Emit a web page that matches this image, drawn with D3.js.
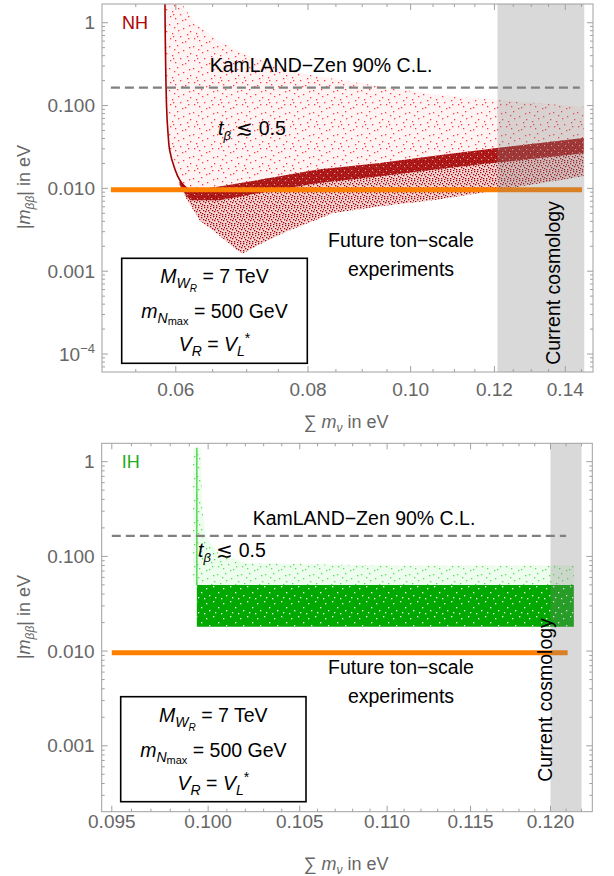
<!DOCTYPE html>
<html><head><meta charset="utf-8">
<script src="https://cdn.jsdelivr.net/npm/d3@7"></script>
<style>body{margin:0;background:#fff} svg text{font-family:"Liberation Sans",Arial,sans-serif}</style>
</head><body><svg id="c" width="614" height="876"></svg>
<script>
// ---------- data ----------
// NH panel
const nhXTicks = [0.06, 0.08, 0.10, 0.12, 0.14];
const nhXTickLabels = ["0.06", "0.08", "0.10", "0.12", "0.14"];
const nhXMinor = [0.055,0.065,0.07,0.075,0.085,0.09,0.095,0.105,0.11,0.115,0.125,0.13,0.135,0.145];
const nhYTicks = [1, 0.1, 0.01, 0.001, 0.0001];
const nhYTickLabels = ["1", "0.100", "0.010", "0.001", "10^-4"];
// sparse light-red cloud: upper envelope (left→right)
const nhLightUpper = [[0.0586,1.8],[0.0606,1.8],[0.0625,1.0],[0.0656,0.62],[0.0705,0.39],[0.0786,0.246],[0.0936,0.17],[0.1059,0.135],[0.1207,0.117],[0.1457,0.097]];
// dense dark-red band: upper envelope (left→right)
const nhBandUpper = [[0.0586,1.8],[0.0588,0.1],[0.0590,0.045],[0.0592,0.029],[0.0598,0.018],[0.0605,0.0127],[0.0612,0.0105],[0.0619,0.0095],[0.0660,0.0105],[0.0705,0.0121],[0.0815,0.0168],[0.0936,0.0203],[0.1059,0.025],[0.1207,0.0307],[0.1457,0.0405]];
// dense core just below the upper edge
const nhCoreLower = [[0.0605,0.0110],[0.0612,0.0086],[0.0619,0.0072],[0.0660,0.0072],[0.0705,0.0084],[0.0815,0.0115],[0.0936,0.0140],[0.1059,0.0170],[0.1207,0.0205],[0.1457,0.0265]];
// lower envelope of the dark band (left→right)
const nhBandLower = [[0.0605,0.0110],[0.0614,0.0075],[0.0632,0.0041],[0.0656,0.00286],[0.0685,0.0018],[0.0694,0.00164],[0.0720,0.0021],[0.0758,0.0029],[0.0844,0.0050],[0.0936,0.0061],[0.1059,0.0073],[0.1207,0.0095],[0.1457,0.0140]];
// IH panel
const ihXTicks = [0.095, 0.100, 0.105, 0.110, 0.115, 0.120];
const ihXTickLabels = ["0.095", "0.100", "0.105", "0.110", "0.115", "0.120"];
const ihXMinor = [0.096,0.097,0.098,0.099,0.101,0.102,0.103,0.104,0.106,0.107,0.108,0.109,0.111,0.112,0.113,0.114,0.116,0.117,0.118,0.119,0.121,0.122];
const ihYTicks = [1, 0.1, 0.01, 0.001];
const ihYTickLabels = ["1", "0.100", "0.010", "0.001"];
const ihLightUpper = [[0.0992,1.4],[0.0996,1.4],[0.0997,0.3],[0.0999,0.16],[0.1005,0.11],[0.102,0.085],[0.11,0.08],[0.1215,0.08]];
const ihBandUpper = [[0.0994,0.0499],[0.1215,0.0499]];
const ihBandLower = [[0.0994,0.0181],[0.1215,0.0181]];
// reference lines / regions
const kamland = 0.165;
const tonScale = 0.0096;
const nhLineRange = [0.0521, 0.1445];
const nhOrangeRange = [0.0521, 0.1452];
const ihLineRange = [0.0950, 0.1210];
const ihOrangeRange = [0.0950, 0.1211];
const nhCosmo = [0.1208, 0.1459];
const ihCosmo = [0.1200, 0.1220];

// ---------- drawing ----------
const svg = d3.select("#c");
const defs = svg.append("defs");
function dotPattern(id, w, h, pts, color, r, bg, bgOp) {
  const p = defs.append("pattern").attr("id", id).attr("patternUnits", "userSpaceOnUse").attr("width", w).attr("height", h);
  if (bg) p.append("rect").attr("width", w).attr("height", h).attr("fill", bg).attr("fill-opacity", bgOp);
  pts.forEach(q => p.append("rect").attr("x", q[0]).attr("y", q[1]).attr("width", r).attr("height", r).attr("fill", color));
}
const sparse = [[1,2],[9,1],[15,6],[4,11],[12,14],[19,12],[7,18],[17,19],[2,16],[21,3],[10,8],[20,16],[5,14],[14,20],[22,9],[6,5]];
const dense = [[0,0],[3,1],[6,0],[1,3],[5,3],[7,4],[2,5],[4,6],[0,7],[6,7],[3,8],[8,2]];
dotPattern("pLight", 24, 22, sparse, "#ff4040", 1.3, "#ff6060", 0.08);
dotPattern("pDark", 9, 9, dense, "#a80000", 1.3, "#b00000", 0.16);
dotPattern("pGreenL", 24, 22, sparse, "#55e055", 1.3, "#70f070", 0.12);
dotPattern("pGreenSpeck", 17, 15, [[2,3],[9,1],[14,7],[5,10],[11,12],[0,13]], "#ffffff", 1.3, null, 0);
dotPattern("pCore", 7, 7, [[1,2],[5,5]], "#ffffff", 1.1, null, 0);

function panel(o) {
  const g = svg.append("g");
  const x = d3.scaleLog().domain(o.xDom).range([o.x0, o.x1]);
  const y = d3.scaleLog().domain(o.yDom).range([o.y1, o.y0]);
  const cid = "clip" + o.name;
  defs.append("clipPath").attr("id", cid).append("rect").attr("x", o.x0).attr("y", o.y0).attr("width", o.x1 - o.x0).attr("height", o.y1 - o.y0);
  const pg = g.append("g").attr("clip-path", `url(#${cid})`);
  const poly = (up, lo) => {
    const pts = up.map(d => [x(d[0]), y(d[1])]).concat(lo.slice().reverse().map(d => [x(d[0]), y(d[1])]));
    return d3.line()(pts) + "Z";
  };
  o.draw(pg, x, y, poly);
  // reference lines
  pg.append("line").attr("x1", x(o.orange[0])).attr("x2", x(o.orange[1])).attr("y1", y(tonScale)).attr("y2", y(tonScale))
    .attr("stroke", "#ff8000").attr("stroke-width", 5);
  pg.append("line").attr("x1", x(o.dash[0])).attr("x2", x(o.dash[1])).attr("y1", y(kamland)).attr("y2", y(kamland))
    .attr("stroke", "#808080").attr("stroke-width", 2.2).attr("stroke-dasharray", "9,5");
  // cosmology band (translucent on top)
  pg.append("rect").attr("x", x(o.cosmo[0])).attr("width", x(o.cosmo[1]) - x(o.cosmo[0])).attr("y", o.y0).attr("height", o.y1 - o.y0)
    .attr("fill", "#808080").attr("fill-opacity", 0.3);
  // frame
  g.append("rect").attr("x", o.x0).attr("y", o.y0).attr("width", o.x1 - o.x0).attr("height", o.y1 - o.y0)
    .attr("fill", "none").attr("stroke", "#a0a0a0").attr("stroke-width", 1);
  const tk = g.append("g").attr("stroke", "#a0a0a0").attr("stroke-width", 1);
  o.xTicks.forEach(v => { tk.append("line").attr("x1", x(v)).attr("x2", x(v)).attr("y1", o.y1).attr("y2", o.y1 - 6);
                          tk.append("line").attr("x1", x(v)).attr("x2", x(v)).attr("y1", o.y0).attr("y2", o.y0 + 6); });
  o.xMinor.forEach(v => { tk.append("line").attr("x1", x(v)).attr("x2", x(v)).attr("y1", o.y1).attr("y2", o.y1 - 3);
                          tk.append("line").attr("x1", x(v)).attr("x2", x(v)).attr("y1", o.y0).attr("y2", o.y0 + 3); });
  const yMinor = [];
  const yMajors = o.yTicks.concat([o.yTicks[o.yTicks.length - 1] / 10]);
  yMajors.forEach(d => { for (let k = 2; k <= 9; k++) { const v = d * k; if (v > o.yDom[0] && v < o.yDom[1]) yMinor.push(v); } });
  o.yTicks.forEach(v => { tk.append("line").attr("y1", y(v)).attr("y2", y(v)).attr("x1", o.x0).attr("x2", o.x0 + 6);
                          tk.append("line").attr("y1", y(v)).attr("y2", y(v)).attr("x1", o.x1).attr("x2", o.x1 - 6); });
  yMinor.forEach(v => { tk.append("line").attr("y1", y(v)).attr("y2", y(v)).attr("x1", o.x0).attr("x2", o.x0 + 3);
                        tk.append("line").attr("y1", y(v)).attr("y2", y(v)).attr("x1", o.x1).attr("x2", o.x1 - 3); });
  // tick labels
  o.xTicks.forEach((v, i) => g.append("text").attr("x", x(v)).attr("y", o.xLabY).attr("text-anchor", "middle")
    .attr("font-size", 19).attr("fill", "#666").text(o.xLabels[i]));
  o.yTicks.forEach((v, i) => {
    const t = g.append("text").attr("x", o.x0 - 7).attr("y", y(v) + 6.5).attr("text-anchor", "end").attr("font-size", 19).attr("fill", "#666");
    const lab = o.yLabels[i];
    if (lab.includes("^")) { const [b, e] = lab.split("^"); t.append("tspan").text(b); t.append("tspan").attr("dy", -8).attr("font-size", 13).text(e.replace("-", "\u2212")); }
    else t.text(lab);
  });
  // axis titles
  const yt = g.append("text").attr("transform", `translate(30,${o.yTitleY}) rotate(-90)`).attr("text-anchor", "middle").attr("font-size", 18).attr("fill", "#666");
  yt.append("tspan").text("|");
  yt.append("tspan").attr("font-style", "italic").text("m");
  yt.append("tspan").attr("font-style", "italic").attr("font-size", 12).attr("dy", 4).text("ββ");
  yt.append("tspan").attr("dy", -4).text("| in eV");
  const xt = g.append("text").attr("x", 346).attr("y", o.xTitleY).attr("text-anchor", "middle").attr("font-size", 18).attr("fill", "#666");
  xt.append("tspan").text("\u2211 ");
  xt.append("tspan").attr("font-style", "italic").text("m");
  xt.append("tspan").attr("font-style", "italic").attr("font-size", 12).attr("dy", 4).text("\u03bd");
  xt.append("tspan").attr("dy", -4).text(" in eV");
  // annotations
  const A = (tx, ty, s, fs) => g.append("text").attr("x", tx).attr("y", ty).attr("font-size", fs || 19.5).attr("fill", "#000").attr("text-anchor", "middle").text(s);
  g.append("text").attr("x", o.x0 + 20).attr("y", o.y0 + 25).attr("font-size", 18).attr("fill", o.hColor).text(o.name);
  A(o.kamX, o.kamY, "KamLAND\u2212Zen 90% C.L.");
  const tb = g.append("text").attr("x", o.tbX).attr("y", o.tbY).attr("font-size", 19.5);
  tb.append("tspan").attr("font-style", "italic").text("t");
  tb.append("tspan").attr("font-style", "italic").attr("font-size", 13).attr("dy", 5).text("\u03b2");
  tb.append("tspan").attr("dy", -5).text(" \u2272 0.5");
  A(o.futX, o.futY, "Future ton\u2212scale");
  A(o.futX, o.futY + 29, "experiments");
  g.append("text").attr("transform", `translate(${o.cosX},${o.cosY}) rotate(-90)`).attr("text-anchor", "middle").attr("font-size", 19.5).text("Current cosmology");
  // parameter box
  const bx = o.box;
  g.append("rect").attr("x", bx[0]).attr("y", bx[1]).attr("width", bx[2]).attr("height", bx[3]).attr("fill", "#fff").attr("stroke", "#000").attr("stroke-width", 1.6);
  const cx = bx[0] + bx[2] / 2;
  const l1 = g.append("text").attr("x", cx).attr("y", bx[1] + 25).attr("text-anchor", "middle").attr("font-size", 19.5);
  l1.append("tspan").attr("font-style", "italic").text("M");
  l1.append("tspan").attr("font-style", "italic").attr("font-size", 14).attr("dy", 5).text("W");
  l1.append("tspan").attr("font-style", "italic").attr("font-size", 10).attr("dy", 4).text("R");
  l1.append("tspan").attr("dy", -9).text(" = 7 TeV");
  const l2 = g.append("text").attr("x", cx).attr("y", bx[1] + 60).attr("text-anchor", "middle").attr("font-size", 19.5);
  l2.append("tspan").attr("font-style", "italic").text("m");
  l2.append("tspan").attr("font-style", "italic").attr("font-size", 14).attr("dy", 5).text("N");
  l2.append("tspan").attr("font-size", 11).attr("dy", 2).text("max");
  l2.append("tspan").attr("dy", -7).text(" = 500 GeV");
  const l3 = g.append("text").attr("x", cx).attr("y", bx[1] + 93).attr("text-anchor", "middle").attr("font-size", 19.5);
  l3.append("tspan").attr("font-style", "italic").text("V");
  l3.append("tspan").attr("font-style", "italic").attr("font-size", 14).attr("dy", 5).text("R");
  l3.append("tspan").attr("dy", -5).text(" = ");
  l3.append("tspan").attr("font-style", "italic").text("V");
  l3.append("tspan").attr("font-style", "italic").attr("font-size", 14).attr("dy", 5).text("L");
  l3.append("tspan").attr("font-size", 14).attr("dy", -13).text("*");
}

panel({
  name: "NH", hColor: "#b00000",
  x0: 102, x1: 593, y0: 4, y1: 372,
  xDom: [0.0511, 0.1487], yDom: [Math.pow(10, -4.217), Math.pow(10, 0.226)],
  xTicks: nhXTicks, xLabels: nhXTickLabels, xMinor: nhXMinor, yTicks: nhYTicks, yLabels: nhYTickLabels,
  orange: nhOrangeRange, dash: nhLineRange, cosmo: nhCosmo,
  xLabY: 396, xTitleY: 428, yTitleY: 187,
  kamX: 321, kamY: 72, tbX: 218, tbY: 135, futX: 401, futY: 247, cosX: 560, cosY: 283,
  box: [121.7, 258.3, 185.6, 105],
  draw: (pg, x, y, poly) => {
    pg.append("path").attr("d", poly(nhLightUpper, nhBandUpper)).attr("fill", "url(#pLight)");
    const core = nhBandUpper.slice(5);
    pg.append("path").attr("d", poly(core, nhBandLower)).attr("fill", "url(#pDark)");
    pg.append("path").attr("d", poly(core, nhCoreLower)).attr("fill", "#a30000").attr("fill-opacity", 0.85);
    pg.append("path").attr("d", poly(core, nhCoreLower)).attr("fill", "url(#pCore)").attr("fill-opacity", 0.6);
    pg.append("path").attr("d", d3.line().curve(d3.curveMonotoneY)(nhBandUpper.slice(0, 8).map(d => [x(d[0]), y(d[1])])))
      .attr("fill", "none").attr("stroke", "#a00000").attr("stroke-width", 1.6);
  }
});
panel({
  name: "IH", hColor: "#22aa22",
  x0: 101.7, x1: 592.3, y0: 443.3, y1: 811.7,
  xDom: [0.09449, 0.1227], yDom: [Math.pow(10, -3.696), Math.pow(10, 0.194)],
  xTicks: ihXTicks, xLabels: ihXTickLabels, xMinor: ihXMinor, yTicks: ihYTicks, yLabels: ihYTickLabels,
  orange: ihOrangeRange, dash: ihLineRange, cosmo: ihCosmo,
  xLabY: 828, xTitleY: 870, yTitleY: 617,
  kamX: 364, kamY: 525, tbX: 198, tbY: 557, futX: 401, futY: 674, cosX: 552, cosY: 700,
  box: [120.7, 696.7, 185.3, 105],
  draw: (pg, x, y, poly) => {
    pg.append("path").attr("d", poly(ihLightUpper, [[0.0992, 0.0499], [0.1215, 0.0499]])).attr("fill", "url(#pGreenL)");
    pg.append("path").attr("d", poly(ihBandUpper, ihBandLower)).attr("fill", "#00a800");
    pg.append("path").attr("d", poly(ihBandUpper, ihBandLower)).attr("fill", "url(#pGreenSpeck)");
    pg.append("line").attr("x1", x(0.0994)).attr("x2", x(0.0994)).attr("y1", y(1.4)).attr("y2", y(0.05))
      .attr("stroke", "#5ad65a").attr("stroke-width", 1.5);
  }
});
</script></body></html>
